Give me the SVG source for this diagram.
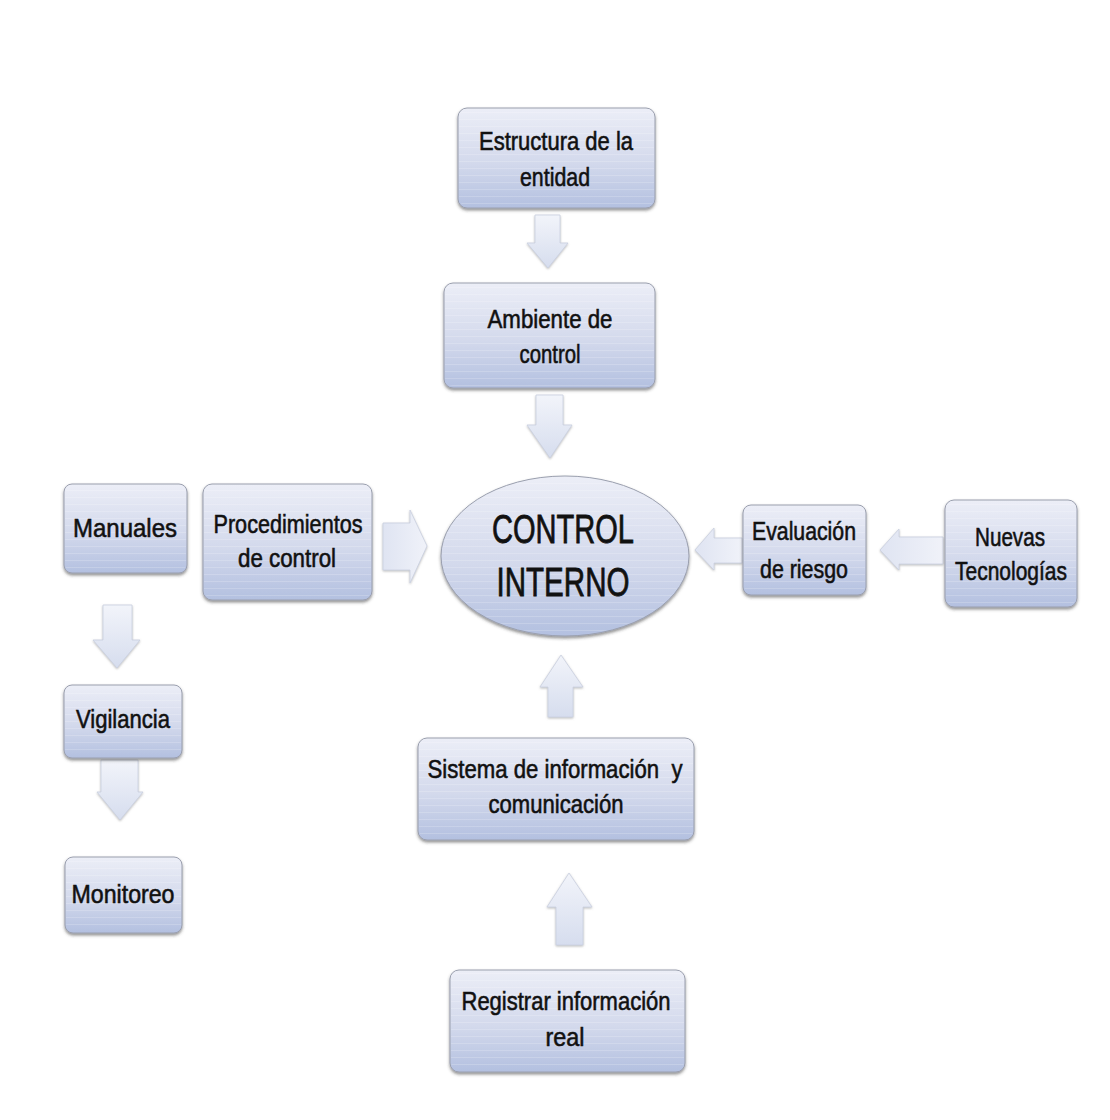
<svg xmlns="http://www.w3.org/2000/svg" width="1110" height="1120" viewBox="0 0 1110 1120">
  <defs>
    <linearGradient id="boxFill" x1="0" y1="0" x2="0" y2="1">
      <stop offset="0" stop-color="#eceef7"/>
      <stop offset="0.55" stop-color="#d3d9ec"/>
      <stop offset="1" stop-color="#b3c0e0"/>
    </linearGradient>
    <linearGradient id="arrowFill" x1="0" y1="0" x2="0" y2="1">
      <stop offset="0" stop-color="#f2f4fa"/>
      <stop offset="1" stop-color="#d6ddee"/>
    </linearGradient>
    <linearGradient id="arrowFillH" x1="0" y1="0" x2="1" y2="0">
      <stop offset="0" stop-color="#dfe4f2"/>
      <stop offset="1" stop-color="#f0f2f9"/>
    </linearGradient>
    <pattern id="stripes" width="8" height="7" patternUnits="userSpaceOnUse">
      <rect x="0" y="0" width="8" height="1" fill="#ffffff" opacity="0.18"/>
    </pattern>
    <filter id="shadow" x="-10%" y="-10%" width="120%" height="130%">
      <feDropShadow dx="0" dy="2" stdDeviation="1.6" flood-color="#3a3a3a" flood-opacity="0.55"/>
    </filter>
    <filter id="ashadow" x="-20%" y="-20%" width="140%" height="140%">
      <feDropShadow dx="0" dy="1" stdDeviation="1.2" flood-color="#777" flood-opacity="0.5"/>
    </filter>
  </defs>
  <style>
    .box { fill: url(#boxFill); stroke: #9a9fae; stroke-width: 1; filter: url(#shadow); }
    .stripe { fill: url(#stripes); }
    .arrow { fill: url(#arrowFill); stroke: #c9cfdf; stroke-width: 0.8; filter: url(#ashadow); }
    .arrowH { fill: url(#arrowFillH); stroke: #c9cfdf; stroke-width: 0.8; filter: url(#ashadow); }
    text { font-family: "Liberation Sans", Arial, sans-serif; font-size: 25px; fill: #111; stroke: #111; stroke-width: 0.55; text-anchor: middle; }
    .big { font-size: 41px; stroke-width: 0.8; }
  </style>
  <rect width="1110" height="1120" fill="#ffffff"/>

  <!-- connectors (block arrows) -->
  <g id="connectors">
    <path class="arrow" d="M535,215 H560 V243 H568 L548,268 L527,243 H535 Z"/>
    <path class="arrow" d="M536,395 H563 V425 H572 L550,458 L527,425 H536 Z"/>
    <path class="arrowH" d="M383,523 H410 V510 L427,546 L410,583 V570 H383 Z"/>
    <path class="arrowH" d="M742,538 H714 V528 L695,550 L714,570 V563 H742 Z"/>
    <path class="arrowH" d="M943,537 H899 V529 L880,550 L899,570 V564 H943 Z"/>
    <path class="arrow" d="M103,605 H132 V640 H140 L117,668 L93,640 H103 Z"/>
    <path class="arrow" d="M101,760 H138 V792 H143 L120,820 L97,792 H101 Z"/>
    <path class="arrow" d="M548,717 H573 V687 H583 L561,655 L540,687 H548 Z"/>
    <path class="arrow" d="M556,945 H583 V907 H592 L569,873 L547,907 H556 Z"/>
  </g>

  <g id="estructura">
    <rect class="box" x="458" y="108" width="197" height="100" rx="9"/>
    <rect class="stripe" x="459" y="110" width="195" height="96" rx="8"/>
    <text x="556" y="150" textLength="154" lengthAdjust="spacingAndGlyphs">Estructura de la</text>
    <text x="555" y="186" textLength="70" lengthAdjust="spacingAndGlyphs">entidad</text>
  </g>

  <g id="ambiente">
    <rect class="box" x="444" y="283" width="211" height="105" rx="9"/>
    <rect class="stripe" x="445" y="285" width="209" height="101" rx="8"/>
    <text x="550" y="328" textLength="125" lengthAdjust="spacingAndGlyphs">Ambiente de</text>
    <text x="550" y="363" textLength="61" lengthAdjust="spacingAndGlyphs">control</text>
  </g>

  <g id="control-interno">
    <ellipse class="box" cx="565" cy="556" rx="124" ry="80"/>
    <ellipse class="stripe" cx="565" cy="556" rx="123" ry="79"/>
    <text class="big" x="563" y="543" textLength="142" lengthAdjust="spacingAndGlyphs">CONTROL</text>
    <text class="big" x="563" y="596" textLength="133" lengthAdjust="spacingAndGlyphs">INTERNO</text>
  </g>

  <g id="manuales">
    <rect class="box" x="64" y="484" width="123" height="89" rx="8"/>
    <rect class="stripe" x="65" y="486" width="121" height="85" rx="7"/>
    <text x="125" y="537" textLength="104" lengthAdjust="spacingAndGlyphs">Manuales</text>
  </g>

  <g id="procedimientos">
    <rect class="box" x="203" y="484" width="169" height="116" rx="9"/>
    <rect class="stripe" x="204" y="486" width="167" height="112" rx="8"/>
    <text x="288" y="533" textLength="149" lengthAdjust="spacingAndGlyphs">Procedimientos</text>
    <text x="287" y="567" textLength="98" lengthAdjust="spacingAndGlyphs">de control</text>
  </g>

  <g id="evaluacion">
    <rect class="box" x="743" y="505" width="123" height="90" rx="8"/>
    <rect class="stripe" x="744" y="507" width="121" height="86" rx="7"/>
    <text x="804" y="540" textLength="104" lengthAdjust="spacingAndGlyphs">Evaluación</text>
    <text x="804" y="578" textLength="88" lengthAdjust="spacingAndGlyphs">de riesgo</text>
  </g>

  <g id="nuevas">
    <rect class="box" x="945" y="500" width="132" height="107" rx="9"/>
    <rect class="stripe" x="946" y="502" width="130" height="103" rx="8"/>
    <text x="1010" y="546" textLength="70" lengthAdjust="spacingAndGlyphs">Nuevas</text>
    <text x="1011" y="580" textLength="112" lengthAdjust="spacingAndGlyphs">Tecnologías</text>
  </g>

  <g id="vigilancia">
    <rect class="box" x="64" y="685" width="118" height="73" rx="8"/>
    <rect class="stripe" x="65" y="687" width="116" height="69" rx="7"/>
    <text x="123" y="728" textLength="94" lengthAdjust="spacingAndGlyphs">Vigilancia</text>
  </g>

  <g id="monitoreo">
    <rect class="box" x="65" y="857" width="117" height="76" rx="8"/>
    <rect class="stripe" x="66" y="859" width="115" height="72" rx="7"/>
    <text x="123" y="903" textLength="103" lengthAdjust="spacingAndGlyphs">Monitoreo</text>
  </g>

  <g id="sistema">
    <rect class="box" x="418" y="738" width="276" height="102" rx="9"/>
    <rect class="stripe" x="419" y="740" width="274" height="98" rx="8"/>
    <text x="555" y="778" textLength="255" lengthAdjust="spacingAndGlyphs" xml:space="preserve">Sistema de información  y</text>
    <text x="556" y="813" textLength="135" lengthAdjust="spacingAndGlyphs">comunicación</text>
  </g>

  <g id="registrar">
    <rect class="box" x="450" y="970" width="235" height="102" rx="9"/>
    <rect class="stripe" x="451" y="972" width="233" height="98" rx="8"/>
    <text x="566" y="1010" textLength="209" lengthAdjust="spacingAndGlyphs">Registrar información</text>
    <text x="565" y="1046" textLength="39" lengthAdjust="spacingAndGlyphs">real</text>
  </g>
</svg>
